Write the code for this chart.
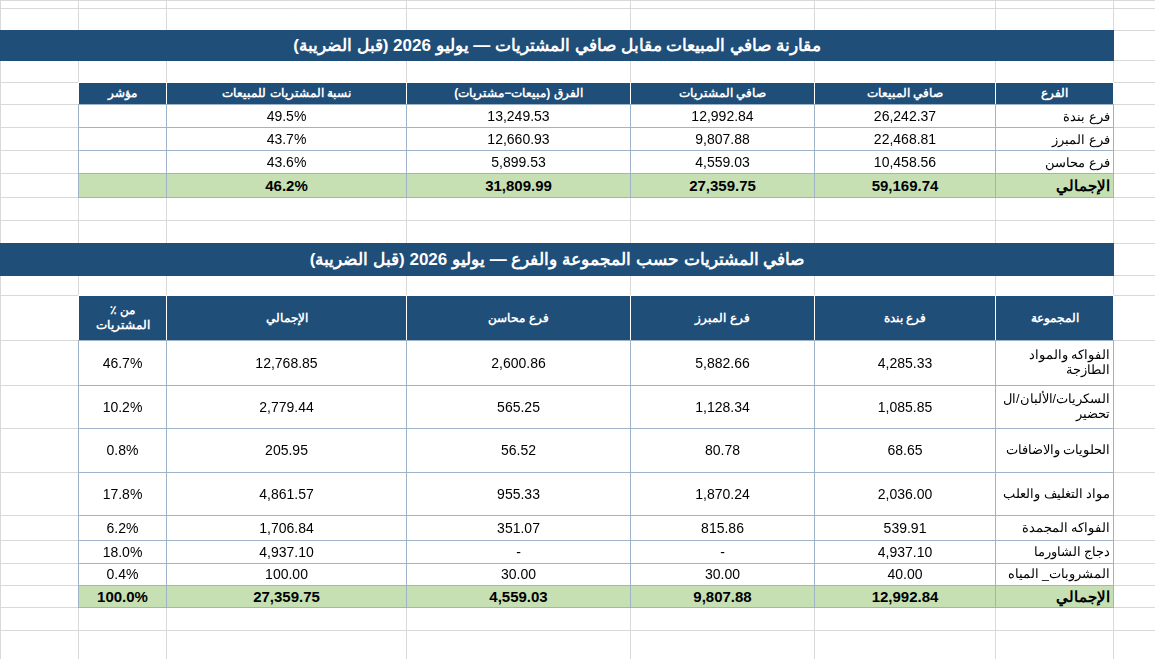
<!DOCTYPE html>
<html><head><meta charset="utf-8">
<script src="https://cdn.jsdelivr.net/npm/chart.js"></script>
<style>
body{margin:0;width:1155px;height:659px;overflow:hidden;background:#fff;font-family:"Liberation Sans",Arial,sans-serif}
#grid{position:absolute;left:0;top:0;width:1155px;height:659px}
.c{position:absolute;box-sizing:border-box;display:flex;align-items:center;font-size:13px;color:#000;direction:rtl;padding:0 3px;line-height:15px}
</style></head><body>
<canvas id="grid" width="1155" height="659"></canvas>
<div id="sheet"></div>
<script>
// table 1
const title1 = 'مقارنة صافي المبيعات مقابل صافي المشتريات — يوليو 2026 (قبل الضريبة)';
const head1 = ['الفرع','صافي المبيعات','صافي المشتريات','الفرق (مبيعات−مشتريات)','نسبة المشتريات للمبيعات','مؤشر'];
const branches = ['فرع بندة','فرع المبرز','فرع محاسن'];
const sales = ['26,242.37','22,468.81','10,458.56'];
const purchases = ['12,992.84','9,807.88','4,559.03'];
const diff = ['13,249.53','12,660.93','5,899.53'];
const ratio = ['49.5%','43.7%','43.6%'];
const total1 = ['الإجمالي','59,169.74','27,359.75','31,809.99','46.2%',''];
// table 2
const title2 = 'صافي المشتريات حسب المجموعة والفرع — يوليو 2026 (قبل الضريبة)';
const head2 = ['المجموعة','فرع بندة','فرع المبرز','فرع محاسن','الإجمالي','من ٪ المشتريات'];
const groups = ['الفواكه والمواد الطازجة','السكريات/الألبان/ال تحضير','الحلويات والاضافات','مواد التغليف والعلب','الفواكه المجمدة','دجاج الشاورما','المشروبات_ المياه'];
const bandah = ['4,285.33','1,085.85','68.65','2,036.00','539.91','4,937.10','40.00'];
const mubarraz = ['5,882.66','1,128.34','80.78','1,870.24','815.86','-','30.00'];
const mahasin = ['2,600.86','565.25','56.52','955.33','351.07','-','30.00'];
const groupTotal = ['12,768.85','2,779.44','205.95','4,861.57','1,706.84','4,937.10','100.00'];
const share = ['46.7%','10.2%','0.8%','17.8%','6.2%','18.0%','0.4%'];
const total2 = ['الإجمالي','12,992.84','9,807.88','4,559.03','27,359.75','100.0%'];

const colX = [0,78,166,406,630,814,995,1113,1155];
const rowY = [0,8,30,60,82,104,127,150,173,197,220,243,275,295,340,385,428,472,515,540,563,585,607,630,659];
const colR = i => [colX[6-i], colX[7-i]];

// sheet gridlines
const g = document.getElementById('grid').getContext('2d');
g.strokeStyle = '#d9d9d9'; g.lineWidth = 1;
colX.forEach(x => { g.beginPath(); g.moveTo(x+.5,0); g.lineTo(x+.5,659); g.stroke(); });
rowY.forEach(y => { g.beginPath(); g.moveTo(0,y+.5); g.lineTo(1155,y+.5); g.stroke(); });

const sheet = document.getElementById('sheet');
function cell(x1,x2,y1,y2,text,o={}){
  const d = document.createElement('div');
  d.className = 'c';
  d.style.left = x1+'px'; d.style.top = y1+'px';
  d.style.width = (x2-x1+1)+'px'; d.style.height = (y2-y1+1)+'px';
  d.style.justifyContent = o.align || 'center';
  d.style.textAlign = o.align === 'flex-start' ? 'right' : 'center';
  if (o.bg) d.style.background = o.bg;
  if (o.color) d.style.color = o.color;
  if (o.bold) d.style.fontWeight = 'bold';
  if (o.size) d.style.fontSize = o.size+'px';
  d.style.border = o.border || '1px solid #9fb3c8';
  d.textContent = text;
  sheet.appendChild(d);
}
const blue = '#1F4E79', green = '#C6E0B4';
cell(0,1113,30,60,title1,{bg:blue,color:'#fff',bold:true,size:17,border:'none'});
head1.forEach((h,i)=>{ const [a,b]=colR(i); cell(a,b,82,104,h,{bg:blue,color:'#fff',bold:true,size:12,border:'1px solid #fff'}); });
branches.forEach((b,r)=>{
  const vals=[b,sales[r],purchases[r],diff[r],ratio[r],''];
  vals.forEach((v,i)=>{ const [a,c]=colR(i); cell(a,c,rowY[5+r],rowY[6+r],v,{align:i===0?'flex-start':'center',size:i===0?13:14}); });
});
total1.forEach((v,i)=>{ const [a,c]=colR(i); cell(a,c,173,197,v,{bg:green,bold:true,size:15,align:i===0?'flex-start':'center'}); });

cell(0,1113,243,275,title2,{bg:blue,color:'#fff',bold:true,size:17,border:'none'});
head2.forEach((h,i)=>{ const [a,b]=colR(i); cell(a,b,295,340,h,{bg:blue,color:'#fff',bold:true,size:12,border:'1px solid #fff'}); });
groups.forEach((gname,r)=>{
  const vals=[gname,bandah[r],mubarraz[r],mahasin[r],groupTotal[r],share[r]];
  vals.forEach((v,i)=>{ const [a,c]=colR(i); cell(a,c,rowY[14+r],rowY[15+r],v,i===0?{align:'flex-start',size:12.5}:{size:14}); });
});
total2.forEach((v,i)=>{ const [a,c]=colR(i); cell(a,c,585,607,v,{bg:green,bold:true,size:15,align:i===0?'flex-start':'center'}); });
</script>
</body></html>
